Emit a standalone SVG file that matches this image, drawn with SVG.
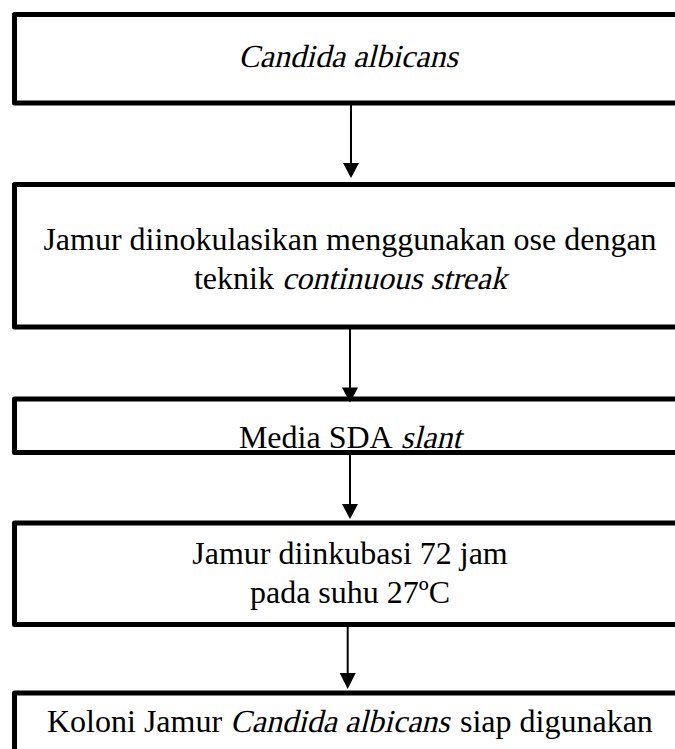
<svg xmlns="http://www.w3.org/2000/svg" width="675" height="749" viewBox="0 0 675 749">
<style>
.box{fill:#fff;stroke:#000;stroke-width:5;stroke-linejoin:round}
.t{font-family:"Liberation Serif","Times New Roman",serif;font-size:32px;fill:#000}
.m{text-anchor:middle}
.c{stroke:#000;stroke-width:2;fill:none}
.h{fill:#000;stroke:none}
</style>
<rect width="675" height="749" fill="#fff"/>
<g id="n1">
<rect class="box" x="14.5" y="14.5" width="700" height="88.5"/>
<text class="t m" transform="translate(348,67) skewX(-14)">Candida albicans</text>
</g>
<g id="n2">
<rect class="box" x="14.5" y="184.5" width="700" height="142.5"/>
<text class="t m" x="350" y="250">Jamur diinokulasikan menggunakan ose dengan</text>
<text class="t" x="193.9" y="289">teknik</text>
<text class="t" transform="translate(281.9,289) skewX(-14)">continuous streak</text>
</g>
<g id="n3">
<rect class="box" x="14.5" y="399" width="700" height="53.5"/>
<text class="t" x="238.9" y="448">Media SDA</text>
<text class="t" transform="translate(400.7,448) skewX(-14)">slant</text>
</g>
<g id="n4">
<rect class="box" x="14.5" y="523" width="700" height="101.5"/>
<text class="t m" x="350" y="564">Jamur diinkubasi 72 jam</text>
<text class="t m" x="350" y="603">pada suhu 27ºC</text>
</g>
<g id="n5">
<rect class="box" x="14.5" y="693" width="700" height="100"/>
<text class="t" x="47" y="732">Koloni Jamur</text>
<text class="t" transform="translate(230.1,732) skewX(-14)">Candida albicans</text>
<text class="t" x="460" y="732">siap digunakan</text>
</g>
<g id="connectors">
<line class="c" x1="351" y1="105" x2="351" y2="165"/>
<polygon class="h" points="343,163 359,163 351,178"/>
<line class="c" x1="350" y1="329" x2="350" y2="389"/>
<polygon class="h" points="342,387.5 358,387.5 350,402.5"/>
<line class="c" x1="350" y1="454" x2="350" y2="506"/>
<polygon class="h" points="342,504 358,504 350,519"/>
<line class="c" x1="347.7" y1="627" x2="347.7" y2="675"/>
<polygon class="h" points="339.7,673 355.7,673 347.7,689"/>
</g>
</svg>
